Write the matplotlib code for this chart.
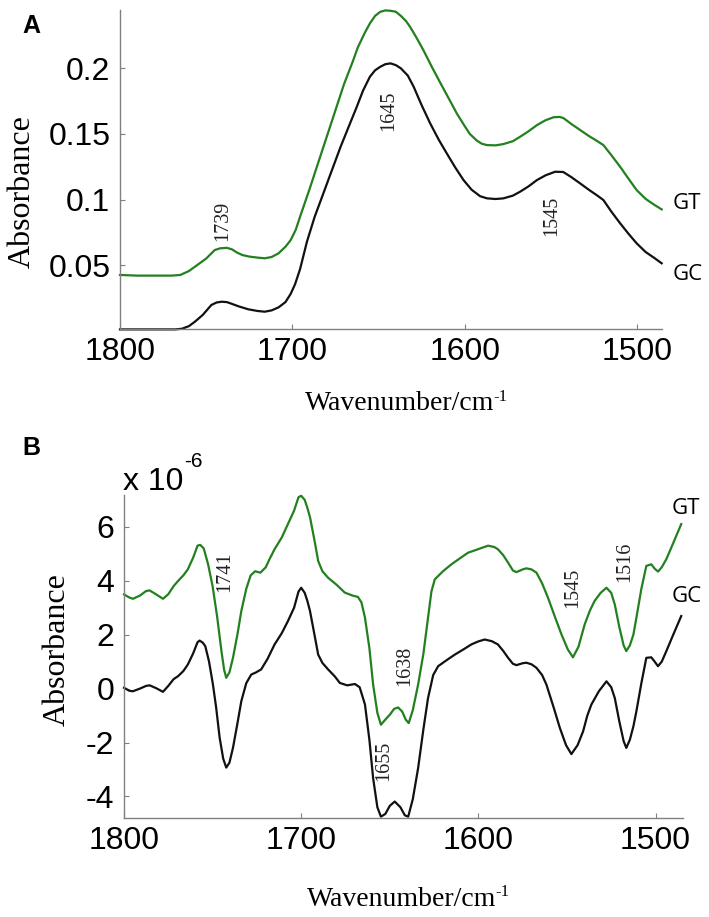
import matplotlib

matplotlib.use("Agg")
import matplotlib.pyplot as plt

# ---- panel A: absorbance spectra ----
a_gt_wn = [1800, 1790, 1780, 1770, 1765, 1760, 1756.5, 1750, 1745, 1742, 1738, 1735,
           1732, 1729, 1725, 1720, 1716, 1712, 1708, 1704, 1701, 1698, 1695.5, 1690,
           1685, 1680, 1675, 1670, 1665, 1662, 1658, 1655, 1652, 1649, 1646, 1643,
           1640, 1637, 1634, 1631.7, 1628, 1624, 1619, 1614, 1609, 1604.6, 1600, 1597,
           1593, 1590, 1587, 1582, 1577.5, 1572, 1567.8, 1563, 1558, 1553, 1548.5,
           1545, 1542.8, 1538, 1533, 1528, 1523, 1519.5, 1515, 1509.8, 1505, 1500.2,
           1495, 1490, 1485.7]
a_gt_abs = [0.0425, 0.042, 0.042, 0.042, 0.0425, 0.0455, 0.0488, 0.055, 0.0615, 0.0628,
            0.0632, 0.062, 0.0595, 0.0577, 0.0565, 0.0557, 0.0552, 0.0562, 0.059, 0.064,
            0.069, 0.077, 0.087, 0.108, 0.128, 0.148, 0.168, 0.188, 0.205, 0.216, 0.227,
            0.2343, 0.240, 0.2431, 0.2442, 0.2439, 0.2432, 0.240, 0.236, 0.2317, 0.2235,
            0.214, 0.201, 0.1886, 0.1765, 0.1657, 0.156, 0.150, 0.145, 0.1425, 0.1415,
            0.1413, 0.1423, 0.1445, 0.1479, 0.152, 0.1568, 0.1605, 0.1627, 0.1630,
            0.1622, 0.1575, 0.153, 0.1485, 0.1445, 0.1415, 0.134, 0.125, 0.116, 0.1072,
            0.1005, 0.096, 0.0925]

a_gc_wn = [1800, 1780, 1768, 1764, 1760, 1756.5, 1752, 1747, 1744, 1741, 1738, 1736,
           1731, 1725.5, 1720, 1716, 1712, 1708, 1704, 1701, 1698.4, 1695.5, 1691.5,
           1687, 1682, 1677, 1672, 1667, 1662.6, 1659, 1655, 1652, 1649, 1646, 1643,
           1640, 1637, 1633, 1629.6, 1625, 1620, 1615, 1610.4, 1605.5, 1600.7, 1596,
           1591, 1587, 1582, 1577.5, 1572, 1567.8, 1563, 1558, 1553, 1547.5, 1542.8,
           1538, 1533, 1528, 1523, 1519.5, 1515, 1509.8, 1505, 1500.2, 1495, 1490,
           1485.7]
a_gc_abs = [0.001, 0.001, 0.001, 0.0015, 0.0035, 0.0069, 0.012, 0.0196, 0.0215, 0.0221,
            0.0218, 0.0209, 0.0185, 0.0163, 0.0150, 0.0145, 0.0155, 0.0178, 0.0218,
            0.0280, 0.0355, 0.0470, 0.0680, 0.087, 0.1047, 0.1225, 0.1402, 0.1565,
            0.1707, 0.1830, 0.1936, 0.1985, 0.2012, 0.2032, 0.2038, 0.2025, 0.200,
            0.1945, 0.186, 0.172, 0.158, 0.1455, 0.1352, 0.1245, 0.1149, 0.1075, 0.1025,
            0.1009, 0.1004, 0.1009, 0.1030, 0.106, 0.110, 0.1149, 0.1185, 0.1212, 0.121,
            0.117, 0.1123, 0.1075, 0.1030, 0.0996, 0.091, 0.0819, 0.0740, 0.0666, 0.0600,
            0.0555, 0.0514]

a_peaks = ["1739", "1645", "1545"]
a_peak_pos = [(1740.2, 0.0836), (1643.9, 0.1675), (1549.3, 0.0874)]

# ---- panel B: second derivative spectra (x 1e-6) ----
b_gt_wn = [1800, 1797, 1795, 1791, 1787.5, 1785.5, 1782, 1778, 1775, 1772, 1769.5,
           1766.5, 1764, 1761, 1758.5, 1757, 1755, 1752.5, 1750, 1747.5, 1745, 1743.5,
           1742.3, 1740.5, 1738.5, 1736, 1733.8, 1731, 1728.5, 1726, 1723, 1720, 1717.5,
           1715, 1711, 1707.5, 1704, 1701.5, 1700, 1698, 1696.5, 1695, 1692.5, 1690.4,
           1688, 1684.8, 1680, 1675.4, 1671, 1668, 1666, 1664, 1661.5, 1659.4, 1657,
           1655, 1652.5, 1650, 1647.5, 1645.3, 1643, 1641, 1639.3, 1637, 1634, 1631,
           1628.4, 1626.5, 1624.6, 1620, 1615.2, 1610, 1605.8, 1601, 1598, 1594.5, 1591,
           1589, 1586, 1583.2, 1580.5, 1578.5, 1575, 1572.9, 1570, 1567.2, 1564, 1560.7,
           1557, 1553.1, 1549.5, 1546.6, 1543.5, 1540, 1537, 1534.4, 1531, 1527.7, 1525,
           1523, 1520.5, 1518, 1516.5, 1514.5, 1512.5, 1510.8, 1508, 1505.2, 1502.4,
           1500.5, 1498.6, 1496.5, 1493.9, 1490, 1485.5]
b_gt_abs = [3.49, 3.38, 3.33, 3.45, 3.62, 3.64, 3.50, 3.33, 3.50, 3.80, 3.99, 4.20, 4.42,
            4.85, 5.30, 5.33, 5.20, 4.60, 3.80, 2.70, 1.39, 0.70, 0.40, 0.60, 1.14, 2.00,
            2.87, 3.70, 4.20, 4.35, 4.30, 4.50, 4.85, 5.17, 5.60, 6.10, 6.60, 7.10, 7.15,
            7.00, 6.70, 6.35, 5.50, 4.73, 4.35, 4.11, 3.85, 3.56, 3.45, 3.40, 3.20, 2.63,
            1.50, 0.15, -0.90, -1.34, -1.15, -0.97, -0.75, -0.70, -0.85, -1.15, -1.28,
            -0.80, 0.15, 1.30, 2.63, 3.60, 4.05, 4.35, 4.61, 4.85, 5.04, 5.15, 5.22, 5.30,
            5.25, 5.17, 4.95, 4.67, 4.38, 4.32, 4.42, 4.46, 4.42, 4.30, 3.90, 3.37, 2.70,
            2.01, 1.45, 1.16, 1.55, 2.38, 2.90, 3.25, 3.55, 3.74, 3.55, 3.12, 2.30, 1.60,
            1.39, 1.60, 2.00, 2.63, 3.70, 4.55, 4.61, 4.45, 4.34, 4.50, 4.80, 5.40, 6.10]

b_gc_wn = [1800, 1797, 1795, 1791, 1787.5, 1785.5, 1782, 1778, 1775, 1772, 1769.5,
           1766.5, 1764, 1761, 1758.5, 1757.3, 1755.5, 1754.1, 1752, 1749.8, 1748, 1746,
           1744, 1742.3, 1740.5, 1738.5, 1736, 1733.8, 1731, 1728.2, 1725.5, 1722.6,
           1719, 1715, 1711, 1707.5, 1704, 1701.5, 1700, 1698, 1696.5, 1695, 1692.5,
           1690.4, 1688, 1684.8, 1681, 1678.2, 1674, 1669.7, 1667, 1664, 1661.5, 1659.4,
           1657, 1655, 1652.5, 1650, 1647.2, 1644, 1641.5, 1639.6, 1637, 1634, 1631,
           1628.4, 1625.5, 1622.7, 1618, 1613.3, 1608.5, 1603.9, 1600, 1596.4, 1592.5,
           1589, 1586, 1583.2, 1580.5, 1578.5, 1575, 1572.9, 1570, 1567.2, 1564, 1561.6,
           1557.5, 1554, 1550.5, 1547.5, 1544, 1540.9, 1538.5, 1536.2, 1532, 1527.7,
           1525, 1523, 1520.5, 1518, 1516.5, 1514.5, 1512.5, 1510.8, 1508, 1505.2,
           1502.4, 1500.5, 1498.6, 1496.5, 1493.9, 1490, 1485.5]
b_gc_abs = [0.03, -0.08, -0.10, 0.00, 0.10, 0.12, 0.02, -0.12, 0.10, 0.35, 0.46, 0.65,
            0.89, 1.30, 1.72, 1.78, 1.70, 1.57, 1.00, 0.15, -0.70, -1.83, -2.60, -2.93,
            -2.75, -2.20, -1.30, -0.47, 0.20, 0.52, 0.60, 0.71, 1.10, 1.64, 2.05, 2.50,
            3.00, 3.60, 3.74, 3.55, 3.25, 2.87, 2.00, 1.26, 0.95, 0.71, 0.45, 0.21, 0.12,
            0.17, 0.05, -0.59, -1.90, -3.32, -4.40, -4.75, -4.65, -4.35, -4.19, -4.40,
            -4.70, -4.75, -4.10, -2.95, -1.50, -0.35, 0.50, 0.83, 1.05, 1.26, 1.45, 1.64,
            1.75, 1.82, 1.76, 1.64, 1.40, 1.14, 0.92, 0.87, 0.94, 0.96, 0.90, 0.77, 0.50,
            0.15, -0.70, -1.46, -2.10, -2.43, -2.10, -1.59, -1.00, -0.59, -0.10, 0.27,
            0.05, -0.35, -1.20, -1.95, -2.20, -1.90, -1.40, -0.84, 0.20, 1.14, 1.16, 1.00,
            0.83, 1.00, 1.39, 2.00, 2.69]

b_peaks = ["1741", "1655", "1638", "1545", "1516"]
b_peak_pos = [(1743, 4.35), (1653.4, -2.68), (1641.5, 0.86), (1546.8, 3.72), (1517.4, 4.72)]

GREEN = "#23801f"
BLACK = "#111111"
AXIS = "#808080"
SANS = "Liberation Sans"
SERIF = "Liberation Serif"

W, H = 709, 917
fig = plt.figure(figsize=(W / 100, H / 100), dpi=100)


def fx(x):
    return x / W


def fy(y):
    return 1 - y / H


def style(ax):
    for s in ("top", "right"):
        ax.spines[s].set_visible(False)
    for s in ("left", "bottom"):
        ax.spines[s].set_color(AXIS)
        ax.spines[s].set_linewidth(1.0)
    ax.tick_params(direction="in", length=3.5, width=0.8, color=AXIS, labelsize=23,
                   labelcolor="black")
    ax.tick_params(axis="y", pad=7)
    ax.tick_params(axis="x", pad=6)
    for lab in ax.get_xticklabels() + ax.get_yticklabels():
        lab.set_fontfamily(SANS)


def xlabel_with_sup(ax, x, y):
    t = fig.text(fx(x), fy(y), "Wavenumber/cm", fontsize=20, family=SERIF,
                 ha="center", va="center")
    ax.annotate("-1", xy=(1.0, 1.0), xycoords=t, xytext=(-1, 2), textcoords="offset points",
                ha="left", va="top", fontsize=12, family=SERIF, annotation_clip=False)


# panel A
axA = fig.add_axes([fx(120), fy(329), fx(662) - fx(120), fy(10) - fy(329)])
axA.plot(a_gt_wn, a_gt_abs, color=GREEN, lw=1.6, clip_on=False)
axA.plot(a_gc_wn, a_gc_abs, color=BLACK, lw=1.6, clip_on=False)
axA.set_xlim(1800, 1485.5)
axA.set_ylim(0.0013, 0.2445)
axA.set_xticks([1800, 1700, 1600, 1500])
axA.set_xticklabels(["1800", "1700", "1600", "1500"])
axA.set_yticks([0.05, 0.1, 0.15, 0.2])
axA.set_yticklabels(["0.05", "0.1", "0.15", "0.2"])
style(axA)
for lab, (w, v) in zip(a_peaks, a_peak_pos):
    axA.text(w, v, lab, rotation=90, ha="center", va="center", fontsize=14.5,
             family=SERIF, color="#222222")
axA.text(1479.6, 0.0973, "GT", ha="left", va="center", fontsize=16, family="Open Sans",
         clip_on=False)
axA.text(1479.6, 0.0425, "GC", ha="left", va="center", fontsize=16, family="Open Sans",
         clip_on=False)

# panel B
axB = fig.add_axes([fx(124), fy(818), fx(683) - fx(124), fy(495) - fy(818)])
axB.plot(b_gt_wn, b_gt_abs, color=GREEN, lw=1.6, clip_on=False)
axB.plot(b_gc_wn, b_gc_abs, color=BLACK, lw=1.6, clip_on=False)
axB.set_xlim(1800, 1484.5)
axB.set_ylim(-4.8, 7.18)
axB.set_xticks([1800, 1700, 1600, 1500])
axB.set_xticklabels(["1800", "1700", "1600", "1500"])
axB.set_yticks([-4, -2, 0, 2, 4, 6])
axB.set_yticklabels(["-4", "-2", "0", "2", "4", "6"])
style(axB)
for lab, (w, v) in zip(b_peaks, b_peak_pos):
    axB.text(w, v, lab, rotation=90, ha="center", va="center", fontsize=14.5,
             family=SERIF, color="#222222")
axB.text(1490.9, 6.69, "GT", ha="left", va="center", fontsize=16, family="Open Sans",
         clip_on=False)
axB.text(1490.9, 3.42, "GC", ha="left", va="center", fontsize=16, family="Open Sans",
         clip_on=False)

# panel letters, axis titles, exponent
fig.text(fx(22), fy(26), "A", fontsize=18, fontweight="bold", family=SANS,
         ha="left", va="center")
fig.text(fx(22), fy(448), "B", fontsize=18, fontweight="bold", family=SANS,
         ha="left", va="center")
fig.text(fx(22), fy(192), "Absorbance", rotation=90, fontsize=23, family=SERIF,
         ha="center", va="center")
fig.text(fx(57), fy(650), "Absorbance", rotation=90, fontsize=23, family=SERIF,
         ha="center", va="center")
xlabel_with_sup(axA, 400, 404)
xlabel_with_sup(axB, 402, 899)
exp = fig.text(fx(123), fy(490), "x 10", fontsize=23, family=SANS, ha="left",
               va="baseline")
axB.annotate("-6", xy=(1.0, 1.0), xycoords=exp, xytext=(0.5, 4), textcoords="offset points",
             ha="left", va="center", fontsize=15, family=SANS, annotation_clip=False)

fig.savefig("out.png", dpi=100)
